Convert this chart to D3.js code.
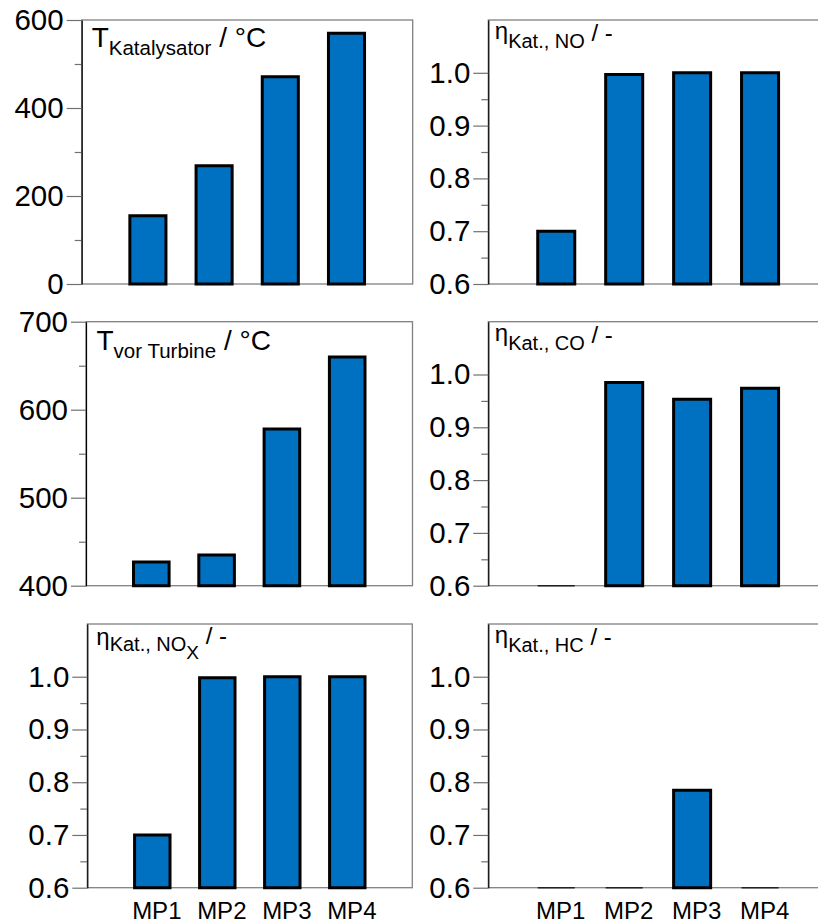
<!DOCTYPE html>
<html>
<head>
<meta charset="utf-8">
<script src="https://cdn.jsdelivr.net/npm/d3@7"></script>
<style>
  body { margin: 0; background: #fff; }
  svg { display: block; font-family: "Liberation Sans", Arial, sans-serif; }
  text { white-space: pre; }
</style>
</head>
<body>
<script>
var width = 818,
    height = 924;

// data
var categories = ["MP1", "MP2", "MP3", "MP4"];
var tKatalysator = [155, 269, 471, 570];
var tVorTurbine = [427, 435, 578, 660];
var etaNO = [0.70, 0.997, 1.0, 1.0];
var etaCO = [0.6, 0.985, 0.953, 0.974];
var etaNOx = [0.70, 0.998, 1.0, 1.0];
var etaHC = [0.6, 0.6, 0.785, 0.6];

var tKatTicks = [0, 200, 400, 600],
    tKatMinor = [100, 300, 500];
var tTurbTicks = [400, 500, 600, 700],
    tTurbMinor = [450, 550, 650];
var etaTicks = [0.6, 0.7, 0.8, 0.9, 1.0],
    etaMinor = [0.65, 0.75, 0.85, 0.95];

var svg = d3.select("body").append("svg")
    .attr("width", width)
    .attr("height", height);

var fmtInt = d3.format("d"),
    fmtEta = d3.format(".1f");

var panels = [
  { values: tKatalysator, domain: [0, 600], ticks: tKatTicks, minor: tKatMinor, fmt: fmtInt,
    x0: 81.7, x1: 412.7, y0: 20, y1: 284,
    title: { dx: 10, dy: 27, parts: [["T", 28, 0], ["Katalysator", 20.5, 8], [" / °C", 28, -8]] } },
  { values: etaNO, domain: [0.6, 1.1], ticks: etaTicks, minor: etaMinor, fmt: fmtEta,
    x0: 488.3, x1: 828, y0: 20, y1: 284,
    title: { dx: 6.5, dy: 19, parts: [["η", 24, 0], ["Kat., NO", 20, 9], [" / -", 24, -7]] } },
  { values: tVorTurbine, domain: [400, 700], ticks: tTurbTicks, minor: tTurbMinor, fmt: fmtInt,
    x0: 86, x1: 412.5, y0: 321.7, y1: 585.7,
    title: { dx: 10.5, dy: 28.3, parts: [["T", 28, 0], ["vor Turbine", 20.5, 8], [" / °C", 28, -8]] } },
  { values: etaCO, domain: [0.6, 1.1], ticks: etaTicks, minor: etaMinor, fmt: fmtEta,
    x0: 488.3, x1: 828, y0: 321.7, y1: 585.7,
    title: { dx: 6.5, dy: 19, parts: [["η", 24, 0], ["Kat., CO", 20, 9], [" / -", 24, -7]] } },
  { values: etaNOx, domain: [0.6, 1.1], ticks: etaTicks, minor: etaMinor, fmt: fmtEta,
    x0: 87.3, x1: 412.3, y0: 624, y1: 887.7, xlabels: true,
    title: { dx: 9, dy: 21, parts: [["η", 24, 0], ["Kat., NO", 20, 5.5], ["X", 19, 8], [" / -", 24, -15]] } },
  { values: etaHC, domain: [0.6, 1.1], ticks: etaTicks, minor: etaMinor, fmt: fmtEta,
    x0: 488.3, x1: 828, y0: 624, y1: 887.7, xlabels: true,
    title: { dx: 6.5, dy: 19, parts: [["η", 24, 0], ["Kat., HC", 20, 9], [" / -", 24, -7]] } }
];

panels.forEach(function (p) {
  var x = d3.scalePoint().domain(categories).range([p.x0, p.x1]).padding(1);
  var y = d3.scaleLinear().domain(p.domain).range([p.y1, p.y0]);
  var g = svg.append("g");
  var bw = x.step() * 0.545;

  // frame (grey)
  g.append("rect")
      .attr("x", p.x0).attr("y", p.y0)
      .attr("width", p.x1 - p.x0).attr("height", p.y1 - p.y0)
      .attr("fill", "none")
      .attr("stroke", "#808080")
      .attr("stroke-width", 1.3);

  // bars
  g.selectAll(".bar")
      .data(p.values)
      .enter()
      .append("path")
      .attr("class", "bar")
      .attr("d", function (d, i) {
        var cx = x(categories[i]);
        return "M" + (cx - bw / 2) + "," + y(d) + "H" + (cx + bw / 2) +
               "V" + y(p.domain[0]) + "H" + (cx - bw / 2) + "Z";
      })
      .attr("fill", "#0070C0")
      .attr("stroke", function (d) { return d <= p.domain[0] ? "#222" : "#000"; })
      .attr("stroke-width", function (d) { return d <= p.domain[0] ? 1.5 : 3; })
      .attr("stroke-linejoin", "miter");

  // minor ticks
  var minorAxis = g.append("g")
      .attr("transform", "translate(" + p.x0 + ",0)")
      .call(d3.axisLeft(y).tickValues(p.minor).tickSize(7).tickSizeOuter(0).tickFormat(""));
  minorAxis.select(".domain").remove();
  minorAxis.selectAll("line").attr("stroke", "#707070").attr("stroke-width", 1.2);

  // major ticks and labels
  var axis = g.append("g")
      .attr("transform", "translate(" + p.x0 + ",0)")
      .call(d3.axisLeft(y).tickValues(p.ticks).tickSize(15).tickSizeOuter(0)
            .tickPadding(3).tickFormat(p.fmt));
  axis.select(".domain").attr("stroke", "#000").attr("stroke-width", 1.2);
  axis.selectAll("line").attr("stroke", "#707070").attr("stroke-width", 1.2);
  axis.selectAll("text")
      .attr("fill", "#000")
      .style("font-size", "29.5px")
      .style("font-family", "'Liberation Sans', Arial, sans-serif");

  // category labels
  if (p.xlabels) {
    var xa = g.append("g")
        .attr("transform", "translate(0," + p.y1 + ")")
        .call(d3.axisBottom(x).tickSize(0).tickPadding(14));
    xa.select(".domain").remove();
    xa.selectAll("text")
        .attr("dx", 4)
        .attr("fill", "#000")
        .style("font-size", "24px")
        .style("font-family", "'Liberation Sans', Arial, sans-serif");
  }

  // panel title
  var t = g.append("text")
      .attr("x", p.x0 + p.title.dx)
      .attr("y", p.y0 + p.title.dy)
      .attr("fill", "#000");
  p.title.parts.forEach(function (part) {
    t.append("tspan")
        .attr("dy", part[2])
        .style("font-size", part[1] + "px")
        .text(part[0]);
  });
});
</script>
</body>
</html>
